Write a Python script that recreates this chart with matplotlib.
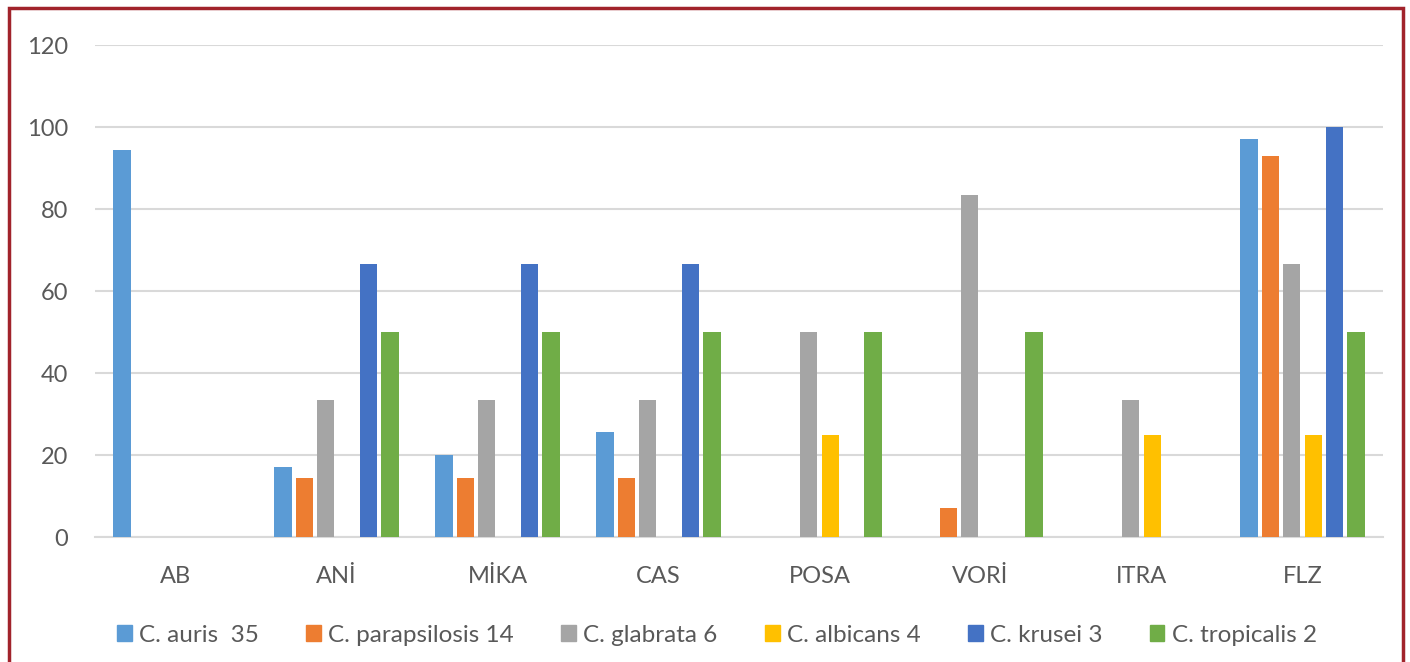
import numpy as np
import matplotlib.pyplot as plt
from matplotlib.patches import Rectangle, Patch

plt.rcParams['font.family'] = ['Lato', 'DejaVu Sans']

# ilaçlar ve türler
categories = ['AB', 'ANİ', 'MİKA', 'CAS', 'POSA', 'VORİ', 'ITRA', 'FLZ']
series_names = ['C. auris  35', 'C. parapsilosis 14', 'C. glabrata 6',
                'C. albicans 4', 'C. krusei 3', 'C. tropicalis 2']

auris = [94.3, 17.1, 20.0, 25.7, 0, 0, 0, 97.1]
parapsilosis = [0, 14.3, 14.3, 14.3, 0, 7.1, 0, 92.9]
glabrata = [0, 33.3, 33.3, 33.3, 50.0, 83.3, 33.3, 66.7]
albicans = [0, 0, 0, 0, 25.0, 0, 25.0, 25.0]
krusei = [0, 66.7, 66.7, 66.7, 0, 0, 0, 100.0]
tropicalis = [0, 50.0, 50.0, 50.0, 50.0, 50.0, 0, 50.0]

values = [auris, parapsilosis, glabrata, albicans, krusei, tropicalis]
colors = ['#5B9BD5', '#ED7D31', '#A5A5A5', '#FFC000', '#4472C4', '#70AD47']

W, H = 1410, 662
fig = plt.figure(figsize=(W / 100, H / 100), dpi=100)
ax = fig.add_axes([95 / W, 125 / H, (1383 - 95) / W, (617 - 125) / H])

x = np.arange(len(categories))
step = 0.133
width = 0.106
for i, (vals, col) in enumerate(zip(values, colors)):
    ax.bar(x + (i - 2.5) * step, vals, width, color=col, zorder=3)

ax.set_xlim(-0.5, len(categories) - 0.5)
ax.set_ylim(0, 120)
ax.set_yticks(range(0, 121, 20))
ax.set_xticks(x)
ax.set_xticklabels(categories)
ax.yaxis.grid(True, color='#D9D9D9', lw=1.5, zorder=0)
for s in ['top', 'right', 'left']:
    ax.spines[s].set_visible(False)
ax.spines['bottom'].set_color('#D9D9D9')
ax.spines['bottom'].set_linewidth(1.5)
ax.tick_params(length=0, labelsize=17, colors='#595959')
ax.tick_params(axis='y', pad=19.5)
ax.tick_params(axis='x', pad=21)

# lejant
handles = [Patch(color=c, label=n) for c, n in zip(colors, series_names)]
fig.legend(handles=handles, loc='center', bbox_to_anchor=(717 / W, (H - 635) / H),
           ncol=6, frameon=False, fontsize=17.5, handlelength=0.6, handleheight=0.6,
           handletextpad=0.3, columnspacing=1.95, labelcolor='#595959')

# çerçeve
fig.patches.append(Rectangle((9 / W, -0.02), (1403 - 9) / W, 1.02 - 8 / H,
                             transform=fig.transFigure, fill=False,
                             edgecolor='#A1232B', lw=2.5))

plt.savefig('out.png', dpi=100)
